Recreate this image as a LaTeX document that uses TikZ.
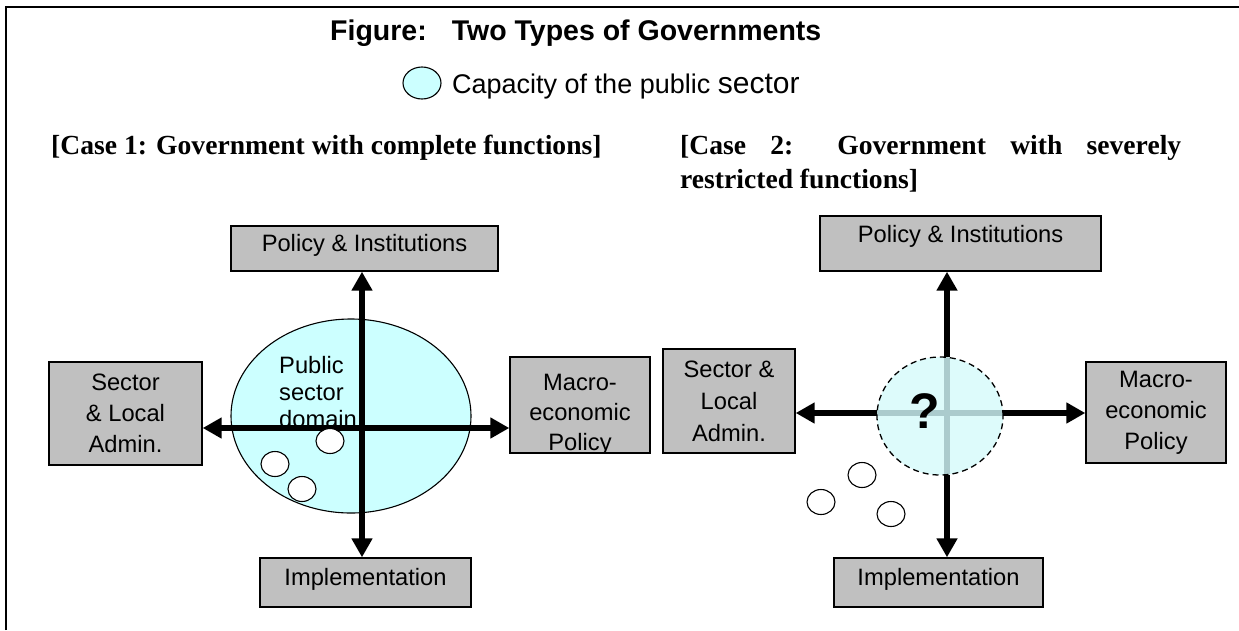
\documentclass[tikz,border=0pt]{standalone}
\usepackage{fontspec}
\setmainfont{Liberation Serif}
\setsansfont{Liberation Sans}
\usetikzlibrary{arrows.meta,shapes.geometric}
\definecolor{boxgray}{HTML}{C0C0C0}
\definecolor{capcyan}{HTML}{CCFFFF}
\definecolor{faintcyan}{HTML}{DDFBFB}
\definecolor{crossgray}{HTML}{ABCBCD}
\begin{document}
\begin{tikzpicture}[x=1pt,y=-1pt,
  graybox/.style={draw=black, line width=1.4pt, fill=boxgray, inner sep=0pt},
  boxtxt/.style={font=\sffamily\fontsize{23.7}{31}\selectfont, align=center, inner sep=0pt},
  headtxt/.style={anchor=base west, inner sep=0pt, font=\bfseries\fontsize{27.6}{34}\selectfont},
  twoway/.style={line width=6.5pt, {Triangle[width=20pt,length=19pt]}-{Triangle[width=20pt,length=19pt]}},
  oneway/.style={line width=6.5pt, -{Triangle[width=20pt,length=19pt]}},
  bubble/.style={ellipse, draw=black, line width=1.1pt, minimum width=28pt, minimum height=25pt, inner sep=0pt}]
\useasboundingbox (0,0) rectangle (1239,630);
% frame
\draw[line width=2.2pt] (6,630) -- (6,7) -- (1239,7);
% title and legend
\node[anchor=base west, inner sep=0pt, font=\sffamily\bfseries\fontsize{28.5}{32}\selectfont] (title) at (330,40) {Figure:\hspace{25pt}Two Types of Governments};
\node[ellipse, draw=black, line width=1.1pt, fill=capcyan, minimum width=38pt, minimum height=32pt, inner sep=0pt] (leg) at (422,83) {};
\node[anchor=base west, inner sep=0pt, font=\sffamily\fontsize{27}{30}\selectfont] (legt) at (452,93) {Capacity of the public {\fontsize{30}{30}\selectfont sector}};
% headings
\node[headtxt] (h1) at (51,154) {[Case 1: Government with complete functions]};
\node[headtxt] (h2a) at (680,154) {\makebox[501pt][s]{[Case 2: Government with severely}};
\node[headtxt] (h2b) at (680,188) {restricted functions]};

% ===== Case 1 =====
\node[graybox, minimum width=267pt, minimum height=45pt] (pol1) at (364.5,248.5) {};
\node[boxtxt, anchor=base] (pol1t) at (364.5,251) {Policy \& Institutions};
\node[graybox, minimum width=211pt, minimum height=49pt] (imp1) at (365.5,582.5) {};
\node[boxtxt, anchor=base] (imp1t) at (365.5,585) {Implementation};
\node[graybox, boxtxt, minimum width=153pt, minimum height=103pt] (sec1) at (125.5,413.5) {Sector\\\& Local\\Admin.};
\node[graybox, minimum width=140pt, minimum height=96pt] (mac1) at (580,405) {};
\begin{scope}
  \clip (510,357) rectangle (650,453);
  \node[boxtxt, font=\sffamily\fontsize{23.7}{30}\selectfont] (mac1t) at (580,415) {Macro-\\economic\\Policy};
\end{scope}
\node[ellipse, draw=black, line width=1.1pt, fill=capcyan, minimum width=240pt, minimum height=194pt, inner sep=0pt] (dom1) at (351,416) {};
\node[anchor=north west, align=left, inner sep=0pt, font=\sffamily\fontsize{23.7}{27}\selectfont] (pub1) at (279,356) {Public\\sector\\domain};
\coordinate (x1) at (362,428);
\draw[twoway] (x1 |- pol1.south) -- (x1 |- imp1.north);
\draw[twoway] (x1 -| sec1.east) -- (x1 -| mac1.west);
\node[bubble, fill=white] (b1a) at (330,441) {};
\node[bubble, fill=white] (b1b) at (275,464) {};
\node[bubble, fill=white] (b1c) at (302,489) {};

% ===== Case 2 =====
\node[graybox, minimum width=281pt, minimum height=55pt] (pol2) at (960.5,243.5) {};
\node[boxtxt, anchor=base] (pol2t) at (960.5,242) {Policy \& Institutions};
\node[graybox, minimum width=209pt, minimum height=49pt] (imp2) at (938.5,582.5) {};
\node[boxtxt, anchor=base] (imp2t) at (938.5,585) {Implementation};
\node[graybox, boxtxt, font=\sffamily\fontsize{23.7}{32}\selectfont, minimum width=132pt, minimum height=104pt] (sec2) at (729,401) {Sector \&\\Local\\Admin.};
\node[graybox, boxtxt, font=\sffamily\fontsize{23.7}{31}\selectfont, minimum width=140pt, minimum height=101pt] (mac2) at (1156,412.5) {Macro-\\economic\\Policy};
\node[ellipse, fill=faintcyan, minimum width=126pt, minimum height=118pt, inner sep=0pt] (q2) at (940,416) {};
\coordinate (x2) at (947,413);
\begin{scope}
  \clip (940,416) ellipse [x radius=63pt, y radius=59pt];
  \draw[crossgray, line width=6pt] (947,340) -- (947,490);
  \draw[crossgray, line width=6pt] (860,413) -- (1020,413);
\end{scope}
\node[ellipse, draw=black, dash pattern=on 6pt off 4pt, line width=1.3pt, minimum width=126pt, minimum height=118pt, inner sep=0pt] (q2b) at (940,416) {};
\node[inner sep=0pt, font=\sffamily\bfseries\fontsize{50}{50}\selectfont] (qm) at (925,411) {?};
\draw[oneway] (x2 |- q2.north) -- (x2 |- pol2.south);
\draw[oneway] (x2 |- q2.south) -- (x2 |- imp2.north);
\draw[oneway] (x2 -| q2.west) -- (x2 -| sec2.east);
\draw[oneway] (x2 -| q2.east) -- (x2 -| mac2.west);
\node[bubble] (b2a) at (862,475) {};
\node[bubble] (b2b) at (821,502) {};
\node[bubble] (b2c) at (891,514) {};
\end{tikzpicture}
\end{document}
